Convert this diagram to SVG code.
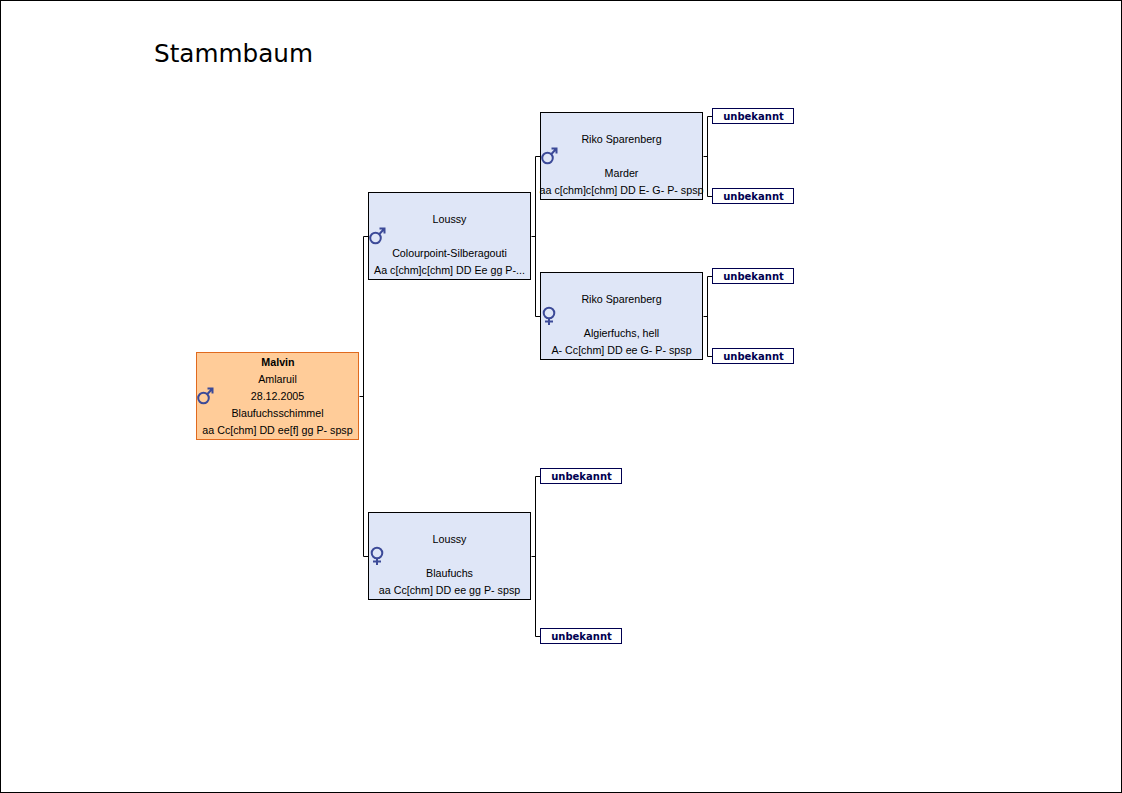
<svg xmlns="http://www.w3.org/2000/svg" width="1122" height="793" viewBox="0 0 1122 793">
<defs>
<style>
text{font-family:"Liberation Sans",Arial,sans-serif;font-size:10.7px;fill:#000;text-anchor:middle}
.box{fill:#dfe6f7;stroke:#000;stroke-width:1}
.root{fill:#ffcc99;stroke:#e06a1e;stroke-width:1}
.unk{fill:#fff;stroke:#000050;stroke-width:1}
.ut{font-family:"DejaVu Sans",Verdana,sans-serif;font-size:10px;font-weight:bold;fill:#000050}
.con{fill:none;stroke:#000;stroke-width:1}
.sym{fill:none;stroke:#3c4a98;stroke-width:2}
</style>
<g id="male"><circle cx="-1.500" cy="2" r="5.300" class="sym"/><path d="M2-1.500L7-7M2.500-7.500H7.500V-2.500" class="sym"/></g>
<g id="female"><circle cx="0" cy="-3" r="5.300" class="sym"/><path d="M0 2V9M-4 5.500H4" class="sym"/></g>
</defs>
<rect x="0.500" y="0.500" width="1121" height="792" fill="#fff" stroke="#000"/>
<text x="233.500" y="62" style="font-family:'DejaVu Sans',Verdana,sans-serif;font-size:24px" textLength="159" lengthAdjust="spacingAndGlyphs">Stammbaum</text>
<g id="connectors" class="con">
<path d="M359.500 396.500H363.500M368.500 236.500H363.500V556.500H368.500"/>
<path d="M531.500 236.500H535.500M540.500 156.500H535.500V316.500H540.500"/>
<path d="M531.500 556.500H535.500M540.500 476.500H535.500V636.500H540.500"/>
<path d="M703.500 156.500H707.500M712.500 116.500H707.500V196.500H712.500"/>
<path d="M703.500 316.500H707.500M712.500 276.500H707.500V356.500H712.500"/>
</g>
<g id="malvin"><rect class="root" x="196.500" y="352.500" width="162" height="87"/><use href="#male" x="205" y="396"/>
<text x="278" y="366" font-weight="bold">Malvin</text><text x="277.500" y="383">Amlaruil</text><text x="277.500" y="400">28.12.2005</text><text x="277.500" y="417">Blaufuchsschimmel</text><text x="277.500" y="434">aa Cc[chm] DD ee[f] gg P- spsp</text></g>
<g id="loussy-m"><rect class="box" x="368.500" y="192.500" width="162" height="87"/><use href="#male" x="377" y="236"/>
<text x="449.500" y="223">Loussy</text><text x="449.500" y="257">Colourpoint-Silberagouti</text><text x="449.500" y="274">Aa c[chm]c[chm] DD Ee gg P-...</text></g>
<g id="loussy-f"><rect class="box" x="368.500" y="512.500" width="162" height="87"/><use href="#female" x="377" y="556"/>
<text x="449.500" y="543">Loussy</text><text x="449.500" y="577">Blaufuchs</text><text x="449.500" y="594">aa Cc[chm] DD ee gg P- spsp</text></g>
<g id="riko-m"><rect class="box" x="540.500" y="112.500" width="162" height="87"/><use href="#male" x="549" y="156"/>
<text x="621.500" y="143">Riko Sparenberg</text><text x="621.500" y="177">Marder</text><text x="621.500" y="194">aa c[chm]c[chm] DD E- G- P- spsp</text></g>
<g id="riko-f"><rect class="box" x="540.500" y="272.500" width="162" height="87"/><use href="#female" x="549" y="316"/>
<text x="621.500" y="303">Riko Sparenberg</text><text x="621.500" y="337">Algierfuchs, hell</text><text x="621.500" y="354">A- Cc[chm] DD ee G- P- spsp</text></g>
<g id="u1"><rect class="unk" x="712.500" y="108.500" width="81" height="15"/><text class="ut" x="753.500" y="120">unbekannt</text></g>
<g id="u2"><rect class="unk" x="712.500" y="188.500" width="81" height="15"/><text class="ut" x="753.500" y="200">unbekannt</text></g>
<g id="u3"><rect class="unk" x="712.500" y="268.500" width="81" height="15"/><text class="ut" x="753.500" y="280">unbekannt</text></g>
<g id="u4"><rect class="unk" x="712.500" y="348.500" width="81" height="15"/><text class="ut" x="753.500" y="360">unbekannt</text></g>
<g id="u5"><rect class="unk" x="540.500" y="468.500" width="81" height="15"/><text class="ut" x="581.500" y="480">unbekannt</text></g>
<g id="u6"><rect class="unk" x="540.500" y="628.500" width="81" height="15"/><text class="ut" x="581.500" y="640">unbekannt</text></g>
</svg>
